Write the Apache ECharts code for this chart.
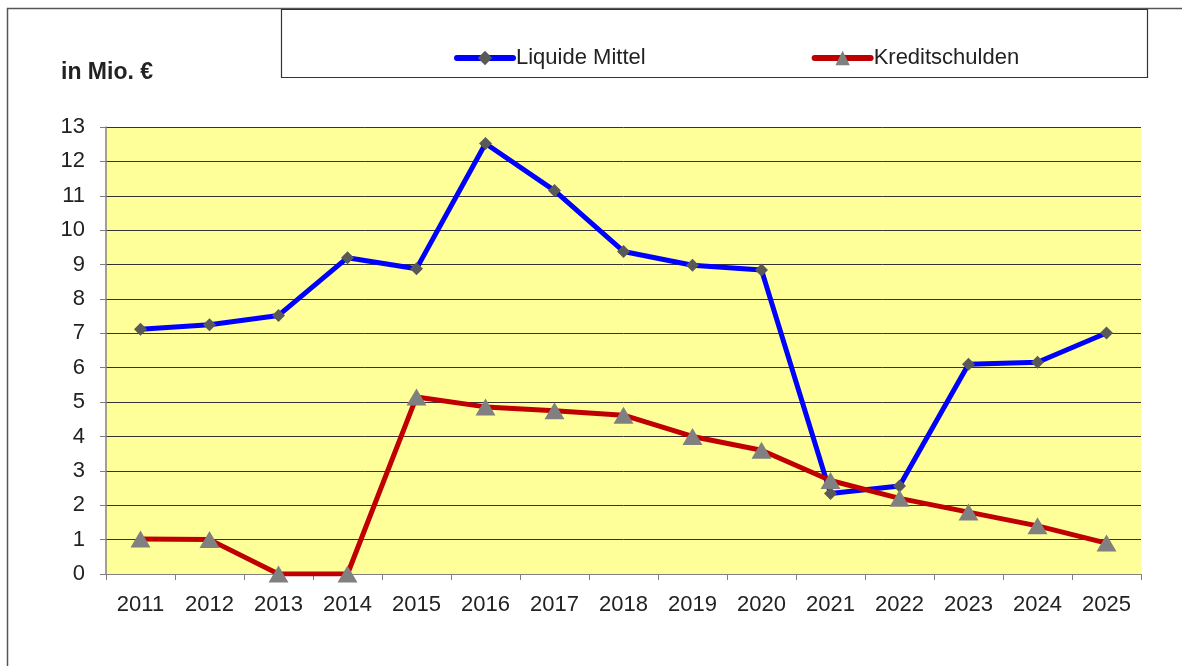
<!DOCTYPE html>
<html>
<head>
<meta charset="utf-8">
<script src="https://cdn.jsdelivr.net/npm/echarts@6/dist/echarts.min.js"></script>
<style>
  html, body { margin: 0; padding: 0; background: #fff; }
  #chart { width: 1182px; height: 666px; }
</style>
</head>
<body>
<div id="chart"></div>
<script>
const years = ['2011', '2012', '2013', '2014', '2015', '2016', '2017', '2018', '2019', '2020', '2021', '2022', '2023', '2024', '2025'];
const liquideMittel = [7.12, 7.25, 7.52, 9.2, 8.88, 12.52, 11.15, 9.38, 8.98, 8.84, 2.34, 2.56, 6.1, 6.16, 7.01];
const kreditschulden = [1.02, 1.0, 0, 0, 5.15, 4.86, 4.75, 4.62, 4.0, 3.6, 2.72, 2.2, 1.8, 1.4, 0.9];

const chart = echarts.init(document.getElementById('chart'));

const font = 'Liberation Sans, Arial, sans-serif';

const option = {
  backgroundColor: '#fff',
  animation: false,
  textStyle: { fontFamily: font },
  graphic: [
    // Rahmen um das ganze Diagramm
    {
      type: 'rect',
      shape: { x: 7.5, y: 8.5, width: 1200, height: 700 },
      style: { fill: 'none', stroke: '#555', lineWidth: 1.5 },
      z: -10
    },
    // Legendenrahmen
    {
      type: 'rect',
      shape: { x: 281.5, y: 9.5, width: 866, height: 68 },
      style: { fill: '#fff', stroke: '#333', lineWidth: 1.2 },
      z: -5
    },
    {
      type: 'text',
      left: 61,
      top: 61,
      style: {
        text: 'in Mio. €',
        font: 'bold 23px ' + font,
        fill: '#222'
      }
    }
  ],
  legend: {
    left: 449,
    top: 42,
    itemWidth: 56,
    itemHeight: 18,
    itemGap: 166,
    lineStyle: { width: 6, cap: 'round' },
    textStyle: { fontSize: 22, color: '#222', fontFamily: font, padding: [0, 0, 0, -2] },
    data: ['Liquide Mittel', 'Kreditschulden']
  },
  grid: {
    left: 106,
    right: 41,
    top: 127,
    bottom: 92,
    show: true,
    backgroundColor: '#FFFF99',
    borderWidth: 0
  },
  xAxis: {
    type: 'category',
    data: years,
    boundaryGap: true,
    axisLine: { show: true, lineStyle: { color: '#808080', width: 1 } },
    axisTick: { show: true, alignWithLabel: false, length: 6, lineStyle: { color: '#808080' } },
    axisLabel: { fontSize: 22, color: '#222', margin: 20 }
  },
  yAxis: {
    type: 'value',
    min: 0,
    max: 13,
    interval: 1,
    axisLine: { show: true, lineStyle: { color: '#808080', width: 1.5 } },
    axisTick: { show: true, inside: false, length: 6, lineStyle: { color: '#808080' } },
    axisLabel: { fontSize: 22, color: '#222', margin: 21 },
    splitLine: { show: true, lineStyle: { color: '#333', width: 1 } }
  },
  series: [
    {
      name: 'Liquide Mittel',
      type: 'line',
      data: liquideMittel,
      symbol: 'diamond',
      symbolSize: 13,
      lineStyle: { color: '#0000FF', width: 5 },
      itemStyle: { color: '#595959', borderWidth: 0 },
      z: 3
    },
    {
      name: 'Kreditschulden',
      type: 'line',
      data: kreditschulden,
      symbol: 'triangle',
      symbolSize: [20, 17],
      lineStyle: { color: '#C00000', width: 5 },
      itemStyle: { color: '#808080', borderWidth: 0 },
      z: 4
    }
  ]
};

chart.setOption(option);
</script>
</body>
</html>
